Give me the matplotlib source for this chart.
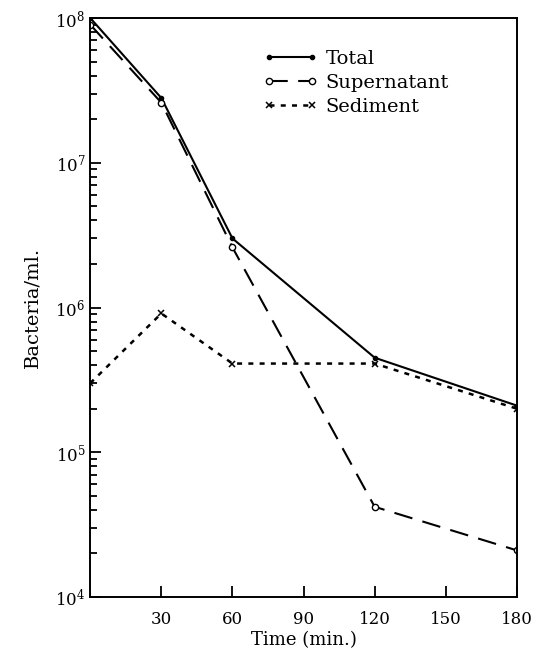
import numpy as np
import matplotlib
matplotlib.use('Agg')
import matplotlib.pyplot as plt
from matplotlib.ticker import LogLocator, FixedLocator, NullFormatter

plt.rcParams['font.family'] = 'DejaVu Serif'
plt.rcParams['mathtext.fontset'] = 'dejavuserif'

# Data
time_min = [0, 30, 60, 120, 180]
total = [1.0e8, 2.8e7, 3.0e6, 4.5e5, 2.1e5]
supernatant = [9.0e7, 2.6e7, 2.6e6, 4.2e4, 2.1e4]
sediment = [3.0e5, 9.1e5, 4.1e5, 4.1e5, 2.0e5]
xticks = [30, 60, 90, 120, 150, 180]

fig = plt.figure(figsize=(5.34, 6.57), dpi=100)
ax = fig.add_axes([0.169, 0.0913, 0.799, 0.8813])

ax.plot(time_min, total, '-', color='black', lw=1.5, marker='o', ms=3,
        mfc='black', mec='black', label='Total')
ax.plot(time_min, supernatant, color='black', lw=1.5, dashes=(9, 5), marker='o',
        ms=4.5, mfc='white', mec='black', mew=1.0, label='Supernatant')
ax.plot(time_min, sediment, color='black', lw=1.8, dashes=(2, 2.5), marker='x',
        ms=5, mew=1.1, label='Sediment')

ax.set_yscale('log')
ax.set_xlim(0, 180)
ax.set_ylim(1e4, 1e8)
ax.xaxis.set_major_locator(FixedLocator(xticks))
ax.yaxis.set_major_locator(LogLocator(base=10))
ax.yaxis.set_minor_locator(LogLocator(base=10, subs=np.arange(2, 10)))
ax.yaxis.set_minor_formatter(NullFormatter())

ax.tick_params(axis='both', which='both', direction='in', top=False, right=False,
               labelsize=12, width=1.3)
ax.tick_params(axis='both', which='major', length=8)
ax.tick_params(axis='x', which='major', pad=10)
ax.tick_params(axis='y', which='minor', length=5)
for s in ax.spines.values():
    s.set_linewidth(1.4)

ax.set_xlabel('Time (min.)', fontsize=13, labelpad=2)
ax.set_ylabel('Bacteria/ml.', fontsize=14, labelpad=10)

ax.legend(loc='upper left', bbox_to_anchor=(0.365, 0.975), frameon=False,
          numpoints=2, handlelength=2.8, fontsize=14, labelspacing=0.3,
          handletextpad=0.4)

fig.savefig('out.png', dpi=100)
